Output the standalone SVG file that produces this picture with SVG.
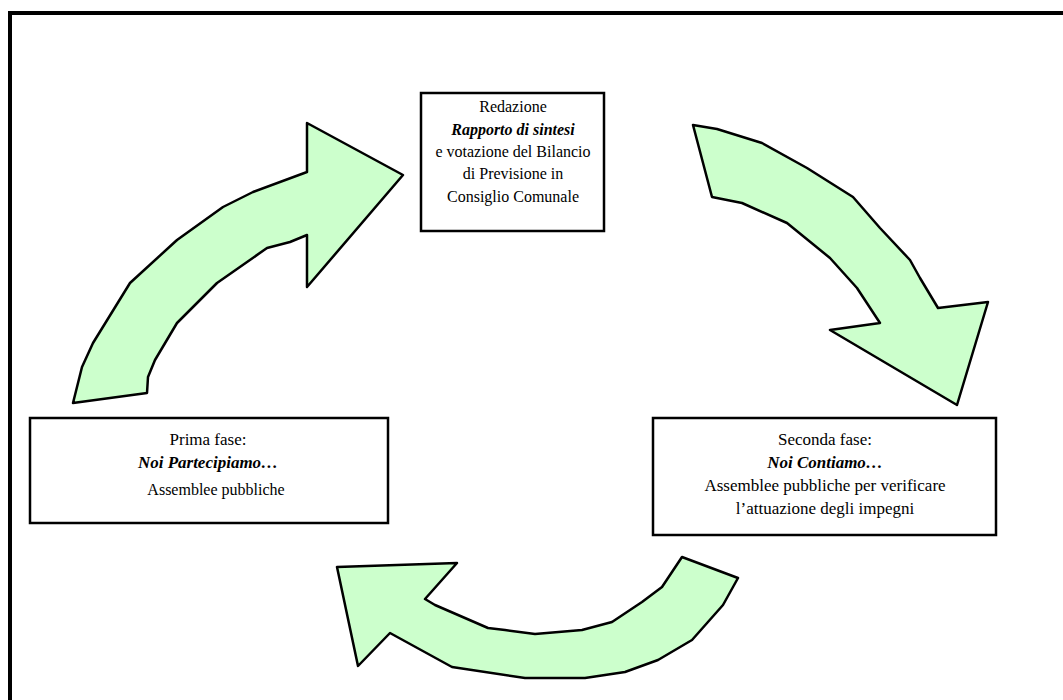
<svg xmlns="http://www.w3.org/2000/svg" width="1063" height="700" viewBox="0 0 1063 700">
<style>
.frame{fill:none;stroke:#000;stroke-width:4}
.box{fill:#fff;stroke:#000;stroke-width:2.5}
.arr{fill:#ccffcc;stroke:#000;stroke-width:2.5;stroke-linejoin:round}
.t{font-family:"Liberation Serif","Times New Roman",serif;font-size:17px;fill:#000;text-anchor:middle}
.s{font-size:16px}
.b{font-weight:bold;font-style:italic}
</style>
<rect width="1063" height="700" fill="#fff"/>
<rect class="frame" x="10" y="13" width="1080" height="720"/>
<g id="connectors">
<path id="arrow-up" class="arr" d="M73,403 L82,367 L93,343 L130,283 L177,240 L223,207 L253,192 L307,172 L307,123 L403,175 L307,287 L307,235 L290,242 L267,248 L217,283 L177,323 L155,360 L148,377 L147,393 Z"/>
<path id="arrow-down" class="arr" d="M693,125 L717,129 L762,143 L807,168 L853,197 L880,228 L910,260 L920,278 L938,308 L988,302 L957,405 L830,330 L880,323 L857,288 L830,258 L787,223 L742,203 L712,197 Z"/>
<path id="arrow-left" class="arr" d="M682,557 L738,578 L733,587 L723,605 L692,640 L658,660 L625,672 L585,678 L525,678 L452,667 L390,633 L358,666 L337,567 L457,563 L425,599 L435,605 L488,628 L505,630 L535,634 L582,630 L612,622 L642,602 L662,587 L672,572 Z"/>
</g>
<g id="node-top">
<rect class="box" x="421" y="93" width="183" height="138"/>
<text class="t s" x="513" y="112">Redazione</text>
<text class="t s b" x="513" y="135">Rapporto di sintesi</text>
<text class="t s" x="513" y="157">e votazione del Bilancio</text>
<text class="t s" x="513" y="179">di Previsione in</text>
<text class="t s" x="513" y="202">Consiglio Comunale</text>
</g>
<g id="node-left">
<rect class="box" x="30" y="418" width="358" height="105"/>
<text class="t" x="208" y="445">Prima fase:</text>
<text class="t b" x="208" y="468">Noi Partecipiamo…</text>
<text class="t s" x="216" y="495">Assemblee pubbliche</text>
</g>
<g id="node-right">
<rect class="box" x="653" y="418" width="343" height="117"/>
<text class="t" x="825" y="445">Seconda fase:</text>
<text class="t b" x="825" y="468">Noi Contiamo…</text>
<text class="t" x="825" y="491">Assemblee pubbliche per verificare</text>
<text class="t" x="825" y="514">l’attuazione degli impegni</text>
</g>
</svg>
